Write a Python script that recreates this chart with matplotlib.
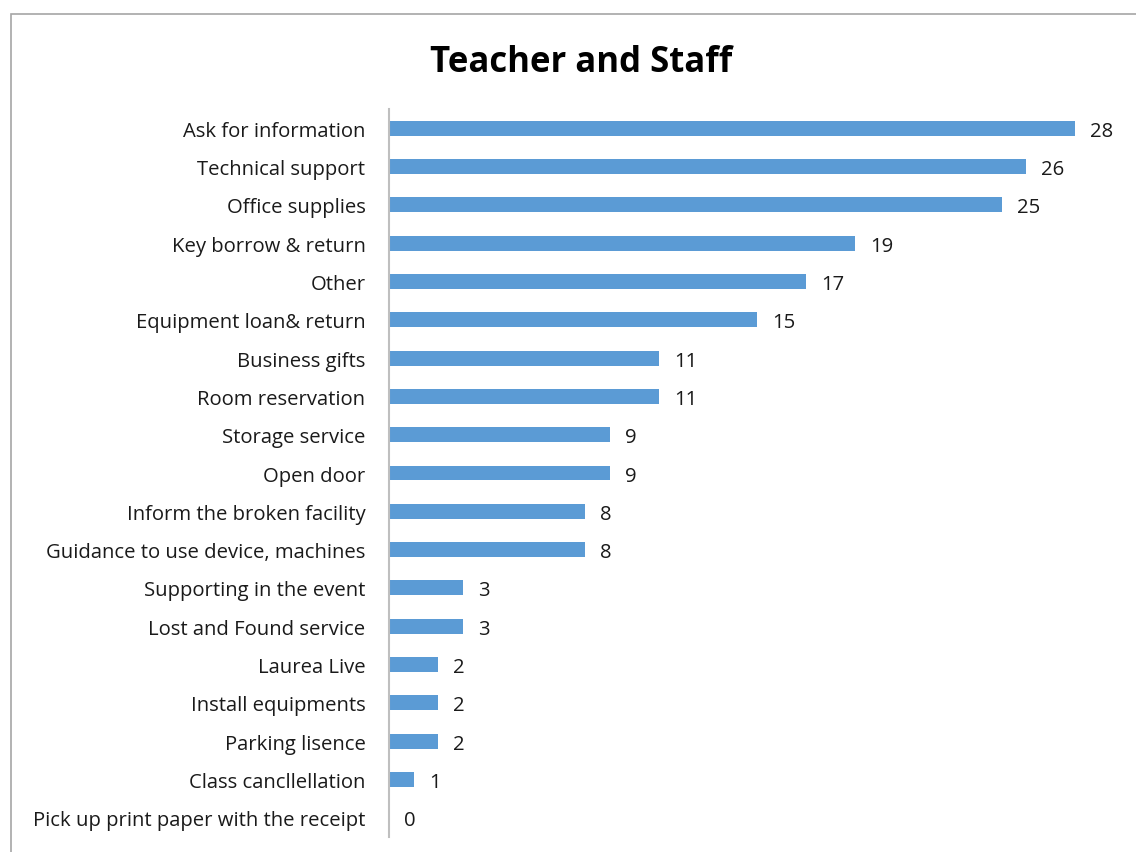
import matplotlib
matplotlib.use("Agg")
import matplotlib.pyplot as plt
from matplotlib.patches import Rectangle

categories = [
    "Ask for information", "Technical support", "Office supplies",
    "Key borrow & return", "Other", "Equipment loan& return",
    "Business gifts", "Room reservation", "Storage service", "Open door",
    "Inform the broken facility", "Guidance to use device, machines",
    "Supporting in the event", "Lost and Found service", "Laurea Live",
    "Install equipments", "Parking lisence", "Class cancllellation",
    "Pick up print paper with the receipt",
]
counts = [28, 26, 25, 19, 17, 15, 11, 11, 9, 9, 8, 8, 3, 3, 2, 2, 2, 1, 0]
title = "Teacher and Staff"

plt.rcParams["font.family"] = ["Open Sans", "DejaVu Sans"]

W, H = 1136, 853
fig = plt.figure(figsize=(W / 100, H / 100), dpi=100)

# outer chart frame (runs off the right and bottom edges)
fig.patches.append(Rectangle((11 / W, -0.05), 1.2, 1 - 15 / H + 0.05,
                             transform=fig.transFigure, fill=False,
                             edgecolor="#a6a6a6", linewidth=1.2))

ax = fig.add_axes([389 / W, 1 - 838 / H, (1124 - 389) / W, (838 - 110) / H])
y = list(range(len(categories)))
ax.barh(y, counts, height=0.39, color="#5b9bd5")
ax.set_ylim(len(categories) - 0.5, -0.5)
ax.set_xlim(0, 30)
ax.set_yticks(y)
ax.set_yticklabels(categories, fontsize=14.6, color="#1a1a1a",
                   va="center_baseline")
ax.tick_params(axis="y", length=0, pad=17)
ax.set_xticks([])
for s in ["top", "right", "bottom"]:
    ax.spines[s].set_visible(False)
ax.spines["left"].set_color("#bfbfbf")
ax.spines["left"].set_linewidth(1.5)

for yi, v in zip(y, counts):
    ax.annotate(str(v), (v, yi), xytext=(11, 0), textcoords="offset points",
                va="center_baseline", ha="left", fontsize=14.6,
                color="#1a1a1a")

fig.text(581 / W, 1 - 58 / H, title, ha="center", va="center_baseline",
         fontsize=25, fontweight="bold", color="#000000")

fig.savefig("out.png", dpi=100, facecolor="white")
